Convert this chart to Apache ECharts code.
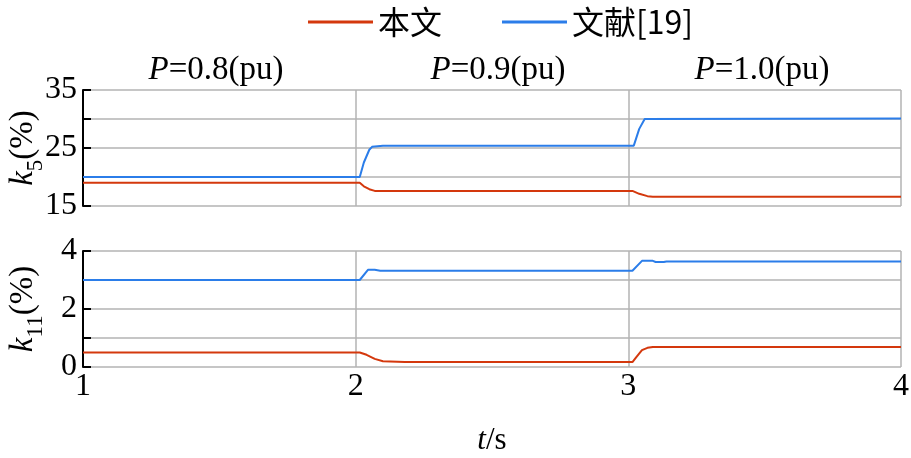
<!DOCTYPE html>
<html>
<head>
<meta charset="utf-8">
<script src="https://cdn.jsdelivr.net/npm/echarts@6/dist/echarts.min.js"></script>
<style>
	html, body { margin: 0; padding: 0; background: #fff; }
	#chart { width: 911px; height: 458px; }
</style>
</head>
<body>
<div id="chart"></div>
<script>
// 上图 k5
var k5Time本文 = [1, 2.015, 2.03, 2.05, 2.07, 3.015, 3.04, 3.07, 3.09, 4];
var k5本文 = [19.0, 19.0, 18.4, 17.9, 17.6, 17.6, 17.1, 16.7, 16.6, 16.6];
var k5Time文献 = [1, 2.015, 2.03, 2.05, 2.06, 2.1, 3.02, 3.04, 3.06, 4];
var k5文献 = [20.0, 20.0, 22.5, 24.7, 25.2, 25.4, 25.4, 28.3, 30.0, 30.1];

// 下图 k11
var k11Time本文 = [1, 2.015, 2.04, 2.07, 2.1, 2.18, 3.015, 3.03, 3.05, 3.07, 3.09, 4];
var k11本文 = [0.5, 0.5, 0.42, 0.28, 0.2, 0.17, 0.17, 0.35, 0.58, 0.66, 0.69, 0.69];
var k11Time文献 = [1, 2.015, 2.045, 2.07, 2.09, 3.015, 3.05, 3.09, 3.1, 3.13, 3.14, 4];
var k11文献 = [3.0, 3.0, 3.35, 3.35, 3.32, 3.32, 3.66, 3.66, 3.62, 3.62, 3.64, 3.64];

var xTicks = [1, 2, 3, 4];
var k5Labels = [15, 25, 35];
var k11Labels = [0, 2, 4];
var panelTitles = ['0.8', '0.9', '1.0'];

function pairs(t, v) {
	return t.map(function(x, i) { return [x, v[i]]; });
}

var RED = '#d4380d';
var BLUE = '#2b7de9';
var GRAY = '#b3b3b3';
var FONT = '"Liberation Serif", "Times New Roman", serif';

var chart = echarts.init(document.getElementById('chart'));

function yAxisOf(idx, min, max, labels, name) {
	return {
		type: 'value',
		gridIndex: idx,
		min: min,
		max: max,
		interval: (max - min) / 4,
		axisLine: { show: true, lineStyle: { color: '#000', width: 2 } },
		axisTick: { show: true, inside: true, length: 8, lineStyle: { color: '#000', width: 2 } },
		splitLine: { show: true, lineStyle: { color: GRAY, width: 1.5 } },
		axisLabel: {
			margin: 6,
			color: '#000',
			fontFamily: FONT,
			fontSize: 32,
			formatter: function(v) { return labels.indexOf(v) >= 0 ? String(v) : ''; }
		},
		name: name,
		nameLocation: 'middle',
		nameRotate: 90,
		nameGap: 43,
		nameMoveOverlap: false,
		nameTextStyle: {
			color: '#000',
			fontFamily: FONT,
			rich: {
				i: { fontFamily: FONT, fontStyle: 'italic', fontSize: 33, color: '#000', lineHeight: 34, verticalAlign: 'middle' },
				s: { fontFamily: FONT, fontSize: 23, color: '#000', lineHeight: 34, verticalAlign: 'bottom', padding: [0, 0, -7, 0] },
				n: { fontFamily: FONT, fontSize: 33, color: '#000', lineHeight: 34, verticalAlign: 'middle' }
			}
		}
	};
}

function xAxisOf(idx, showLabel) {
	return {
		type: 'value',
		gridIndex: idx,
		min: 1,
		max: 4,
		interval: 1,
		axisLine: { show: false },
		axisTick: { show: false },
		splitLine: { show: true, lineStyle: { color: GRAY, width: 1.5 } },
		axisLabel: {
			show: showLabel,
			margin: 4,
			color: '#000',
			fontFamily: FONT,
			fontSize: 32,
			formatter: function(v) { return xTicks.indexOf(v) >= 0 ? String(v) : ''; }
		}
	};
}

var bottomX = xAxisOf(1, true);
bottomX.name = '{i|t}{n|/s}';
bottomX.nameLocation = 'middle';
bottomX.nameGap = 58;
bottomX.nameMoveOverlap = false;
bottomX.nameTextStyle = {
	rich: {
		i: { fontFamily: FONT, fontStyle: 'italic', fontSize: 31, color: '#000' },
		n: { fontFamily: FONT, fontSize: 31, color: '#000' }
	}
};

var titleRich = {
	i: { fontFamily: FONT, fontStyle: 'italic', fontSize: 33, fill: '#000' },
	n: { fontFamily: FONT, fontSize: 33, fill: '#000' }
};
var titleX = [216, 498, 762];

chart.setOption({
	animation: false,
	legend: [{
		left: 303,
		top: 1,
		icon: 'rect',
		itemWidth: 65,
		itemHeight: 3,
		data: ['本文'],
		textStyle: { color: '#000', fontSize: 32, fontFamily: '"Noto Sans CJK SC", sans-serif' }
	}, {
		left: 497,
		top: 1,
		icon: 'rect',
		itemWidth: 65,
		itemHeight: 3,
		data: ['文献[19]'],
		textStyle: { color: '#000', fontSize: 32, fontFamily: '"Noto Sans CJK SC", sans-serif' }
	}],
	grid: [
		{ left: 83, right: 10, top: 90, height: 116, outerBoundsMode: 'none', containLabel: false },
		{ left: 83, right: 10, top: 251, height: 116, outerBoundsMode: 'none', containLabel: false }
	],
	xAxis: [xAxisOf(0, false), bottomX],
	yAxis: [
		yAxisOf(0, 15, 35, k5Labels, '{i|k}{s|5}{n|(%)}'),
		yAxisOf(1, 0, 4, k11Labels, '{i|k}{s|11}{n|(%)}')
	],
	graphic: panelTitles.map(function(p, i) {
		return {
			type: 'text',
			x: titleX[i],
			y: 70,
			style: {
				text: '{i|P}{n|=' + p + '(pu)}',
				rich: titleRich,
				align: 'center',
				verticalAlign: 'middle'
			}
		};
	}),
	series: [{
		name: '本文', type: 'line', xAxisIndex: 0, yAxisIndex: 0,
		showSymbol: false, color: RED, lineStyle: { width: 2 },
		data: pairs(k5Time本文, k5本文)
	}, {
		name: '文献[19]', type: 'line', xAxisIndex: 0, yAxisIndex: 0,
		showSymbol: false, color: BLUE, lineStyle: { width: 2 },
		data: pairs(k5Time文献, k5文献)
	}, {
		name: '本文', type: 'line', xAxisIndex: 1, yAxisIndex: 1,
		showSymbol: false, color: RED, lineStyle: { width: 2 },
		data: pairs(k11Time本文, k11本文)
	}, {
		name: '文献[19]', type: 'line', xAxisIndex: 1, yAxisIndex: 1,
		showSymbol: false, color: BLUE, lineStyle: { width: 2 },
		data: pairs(k11Time文献, k11文献)
	}]
});
</script>
</body>
</html>
